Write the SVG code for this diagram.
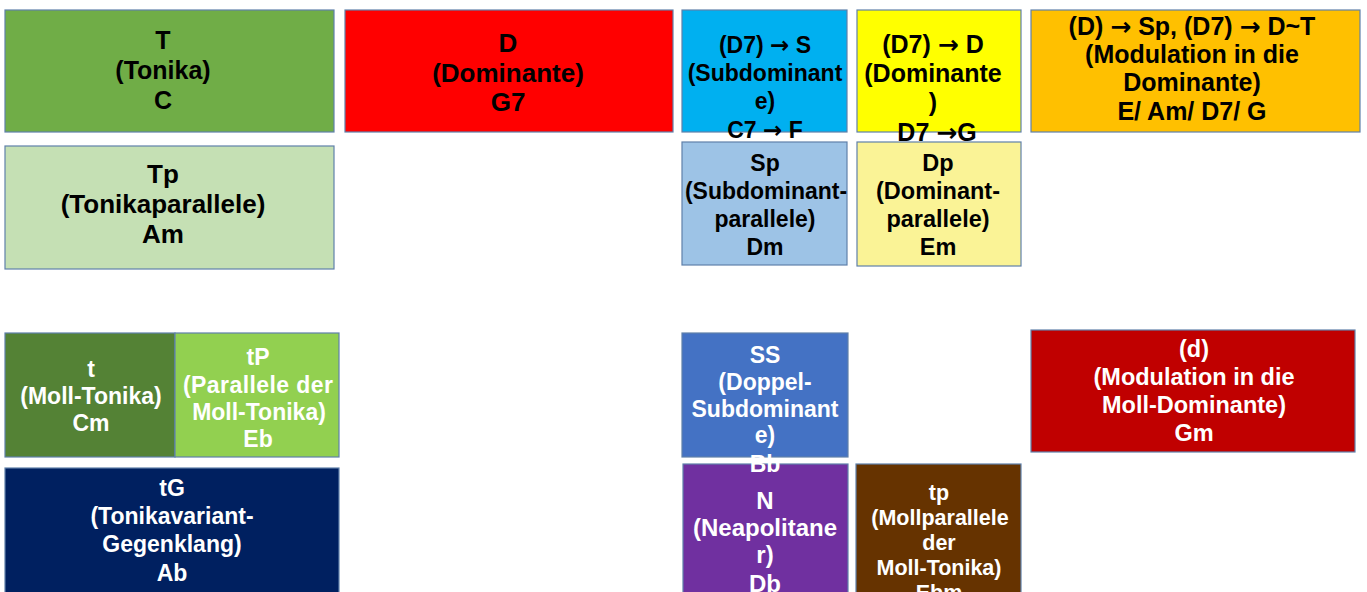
<svg xmlns="http://www.w3.org/2000/svg" width="1367" height="592" viewBox="0 0 1367 592">
<style>
rect{stroke:#5F80AA;stroke-width:1.2}
text{font-family:"Liberation Sans",Arial,sans-serif;font-weight:bold;text-anchor:middle}
.ar{font-family:"DejaVu Sans",sans-serif;font-weight:bold}
.k{fill:#000}
.w{fill:#fff}
</style>
<rect x="0" y="0" width="1367" height="592" fill="#fff" style="stroke:none"/>
<g id="connectors"></g>
<g id="node-T">
<rect x="5" y="10" width="329" height="122" fill="#70AD47"/>
<text class="k" font-size="25" x="163" y="49">T</text>
<text class="k" font-size="25" x="163" y="79">(Tonika)</text>
<text class="k" font-size="25" x="163" y="109">C</text>
</g>
<g id="node-D">
<rect x="345" y="10" width="328" height="122" fill="#FF0000"/>
<text class="k" font-size="26" x="508" y="52">D</text>
<text class="k" font-size="26" x="508" y="82">(Dominante)</text>
<text class="k" font-size="26" x="508" y="111">G7</text>
</g>
<g id="node-Sp">
<rect x="682" y="142" width="165" height="123" fill="#9DC3E6"/>
<text class="k" font-size="23" x="765" y="171">Sp</text>
<text class="k" font-size="23" x="766" y="199">(Subdominant-</text>
<text class="k" font-size="23" x="765" y="227">parallele)</text>
<text class="k" font-size="23" x="765" y="255">Dm</text>
</g>
<g id="node-Dp">
<rect x="857" y="142" width="164" height="124" fill="#FAF396"/>
<text class="k" font-size="23.5" x="938" y="171">Dp</text>
<text class="k" font-size="23.5" x="938" y="199">(Dominant-</text>
<text class="k" font-size="23.5" x="938" y="227">parallele)</text>
<text class="k" font-size="23.5" x="938" y="255">Em</text>
</g>
<g id="node-S">
<rect x="682" y="10" width="165" height="122" fill="#00B0F0"/>
<text class="k" font-size="23" x="765" y="53">(D7) <tspan class="ar">→</tspan> S</text>
<text class="k" font-size="23" x="765" y="81">(Subdominant</text>
<text class="k" font-size="23" x="765" y="109">e)</text>
<text class="k" font-size="23" x="765" y="138">C7 <tspan class="ar">→</tspan> F</text>
</g>
<g id="node-Dom">
<rect x="857" y="10" width="164" height="122" fill="#FFFF00"/>
<text class="k" font-size="25" x="933" y="53">(D7) <tspan class="ar">→</tspan> D</text>
<text class="k" font-size="25" x="933" y="82">(Dominante</text>
<text class="k" font-size="25" x="933" y="111">)</text>
<text class="k" font-size="25" x="937" y="141">D7 <tspan class="ar">→</tspan>G</text>
</g>
<g id="node-Mod">
<rect x="1031" y="10" width="329" height="122" fill="#FFC000"/>
<text class="k" font-size="25" x="1192" y="35">(D) <tspan class="ar">→</tspan> Sp, (D7) <tspan class="ar">→</tspan> D~T</text>
<text class="k" font-size="25" x="1192" y="63">(Modulation in die</text>
<text class="k" font-size="25" x="1192" y="91">Dominante)</text>
<text class="k" font-size="25" x="1192" y="120">E/ Am/ D7/ G</text>
</g>
<g id="node-Tp">
<rect x="5" y="146" width="329" height="123" fill="#C5E0B4"/>
<text class="k" font-size="26" x="163" y="183">Tp</text>
<text class="k" font-size="26" x="163" y="213">(Tonikaparallele)</text>
<text class="k" font-size="26" x="163" y="243">Am</text>
</g>
<g id="node-t">
<rect x="5" y="333" width="170" height="124" fill="#548235"/>
<text class="w" font-size="23" x="91" y="377">t</text>
<text class="w" font-size="23" x="91" y="404">(Moll-Tonika)</text>
<text class="w" font-size="23" x="91" y="431">Cm</text>
</g>
<g id="node-tP">
<rect x="175" y="333" width="164" height="124" fill="#92D050"/>
<text class="w" font-size="23" x="258" y="365">tP</text>
<text class="w" font-size="23" x="258" y="393" textLength="150" lengthAdjust="spacing">(Parallele der</text>
<text class="w" font-size="23" x="259" y="420">Moll-Tonika)</text>
<text class="w" font-size="23" x="258" y="447">Eb</text>
</g>
<g id="node-N">
<rect x="683" y="464" width="165" height="132" fill="#7030A0"/>
<text class="w" font-size="24" x="765" y="509">N</text>
<text class="w" font-size="24" x="765" y="536">(Neapolitane</text>
<text class="w" font-size="24" x="765" y="563">r)</text>
<text class="w" font-size="24" x="765" y="592">Db</text>
</g>
<g id="node-SS">
<rect x="682" y="333" width="166" height="124" fill="#4472C4"/>
<text class="w" font-size="23" x="765" y="363">SS</text>
<text class="w" font-size="23" x="765" y="390">(Doppel-</text>
<text class="w" font-size="23" x="765" y="417">Subdominant</text>
<text class="w" font-size="23" x="765" y="443">e)</text>
<text class="w" font-size="23" x="765" y="472">Bb</text>
</g>
<g id="node-tp">
<rect x="856" y="464" width="165" height="132" fill="#663300"/>
<text class="w" font-size="21.5" x="939" y="500">tp</text>
<text class="w" font-size="21.5" x="940" y="525">(Mollparallele</text>
<text class="w" font-size="21.5" x="939" y="550">der</text>
<text class="w" font-size="21.5" x="939" y="575">Moll-Tonika)</text>
<text class="w" font-size="21.5" x="939" y="600">Ebm</text>
</g>
<g id="node-d">
<rect x="1031" y="330" width="324" height="122" fill="#C00000"/>
<text class="w" font-size="23.5" x="1194" y="357">(d)</text>
<text class="w" font-size="23.5" x="1194" y="385">(Modulation in die</text>
<text class="w" font-size="23.5" x="1194" y="413">Moll-Dominante)</text>
<text class="w" font-size="23.5" x="1194" y="441">Gm</text>
</g>
<g id="node-tG">
<rect x="5" y="468" width="334" height="130" fill="#002060"/>
<text class="w" font-size="23" x="172" y="496">tG</text>
<text class="w" font-size="23" x="172" y="524">(Tonikavariant-</text>
<text class="w" font-size="23" x="172" y="552">Gegenklang)</text>
<text class="w" font-size="23" x="172" y="581">Ab</text>
</g>
</svg>
